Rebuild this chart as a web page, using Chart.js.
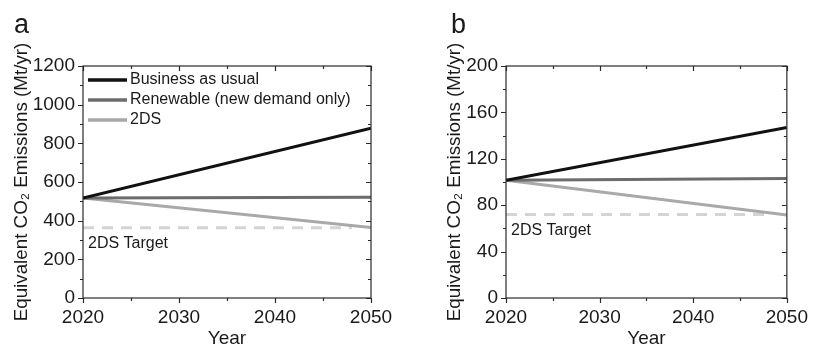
<!DOCTYPE html>
<html>
<head>
<meta charset="utf-8">
<script src="https://cdn.jsdelivr.net/npm/chart.js@4.4.0/dist/chart.umd.min.js"></script>
<style>
  body { margin: 0; background: #fff; width: 816px; height: 348px; overflow: hidden; position: relative;
         font-family: "Liberation Sans", Arial, sans-serif; color: #1a1a1a; }
  .panel { position: absolute; top: 0; height: 348px; }
  #wrapA { left: 0; width: 430px; }
  #wrapB { left: 430px; width: 386px; }
  .letter { position: absolute; font-size: 27px; line-height: 27px; }
</style>
</head>
<body>
<div class="panel" id="wrapA"><canvas id="chartA" width="430" height="348"></canvas></div>
<div class="panel" id="wrapB"><canvas id="chartB" width="386" height="348"></canvas></div>
<div class="letter" style="left:14px;top:11px">a</div>
<div class="letter" style="left:451px;top:11px">b</div>

<script>
// ---- data ----
const years = [2020, 2050];
const targetYears = [2020, 2048];      // dashed target stops just before the right axis
const xTicks = [2020, 2030, 2040, 2050];
const seriesNames = ['Business as usual', 'Renewable (new demand only)', '2DS'];

// panel a
const bauA = [517, 878];
const renewA = [517, 521];
const twoDsA = [517, 364];
const targetA = 364;
const yTicksA = [0, 200, 400, 600, 800, 1000, 1200];

// panel b
const bauB = [101.5, 147];
const renewB = [101.5, 103];
const twoDsB = [101.5, 71.5];
const targetB = 72;
const yTicksB = [0, 40, 80, 120, 160, 200];

const lineColors = ['#111111', '#6c6c6c', '#a9a9a9'];
const targetColor = '#d4d4d4';
const textColor = '#1a1a1a';
const FONT = '"Liberation Sans", Arial, sans-serif';

// frame + ticks (left/bottom outward, top/right inward), legend and the "2DS Target" label
const framePlugin = {
    id: 'frame',
    afterDraw(chart, args, opts) {
        const { ctx, chartArea: a, scales: { x, y } } = chart;
        ctx.save();
        ctx.strokeStyle = '#2a2a2a';
        ctx.lineWidth = 1.2;
        ctx.strokeRect(a.left, a.top, a.right - a.left, a.bottom - a.top);

        const minor = arr => arr.slice(1).map((v, i) => (v + arr[i]) / 2);
        ctx.beginPath();
        const yt = (vals, len) => vals.forEach(v => {
            const py = Math.round(y.getPixelForValue(v)) + 0.5;
            ctx.moveTo(a.left - len, py); ctx.lineTo(a.left, py);
            ctx.moveTo(a.right, py); ctx.lineTo(a.right - len, py);
        });
        const xt = (vals, len) => vals.forEach(v => {
            const px = Math.round(x.getPixelForValue(v)) + 0.5;
            ctx.moveTo(px, a.bottom); ctx.lineTo(px, a.bottom + len);
            ctx.moveTo(px, a.top); ctx.lineTo(px, a.top + len);
        });
        yt(opts.yTicks, 5); yt(minor(opts.yTicks), 3);
        xt(xTicks, 5); xt(minor(xTicks), 3);
        ctx.stroke();

        ctx.fillStyle = textColor;
        ctx.font = '16px ' + FONT;
        ctx.textBaseline = 'middle';

        // legend (only the three scenario lines)
        if (opts.legend) {
            chart.data.datasets.slice(0, 3).forEach((ds, i) => {
                const ly = a.top + 14 + i * 20;
                ctx.strokeStyle = ds.borderColor;
                ctx.lineWidth = 3.5;
                ctx.beginPath();
                ctx.moveTo(a.left + 5, ly); ctx.lineTo(a.left + 44, ly);
                ctx.stroke();
                ctx.fillText(ds.label, a.left + 47, ly);
            });
        }

        // target label
        ctx.fillText('2DS Target', a.left + 5, y.getPixelForValue(opts.target) + 16);
        ctx.restore();
    }
};

function buildChart(id, cfg) {
    const line = (label, vals, color) => ({
        label: label,
        data: years.map((yr, i) => ({ x: yr, y: vals[i] })),
        borderColor: color,
        backgroundColor: color,
        borderWidth: 3,
        pointRadius: 0
    });
    const datasets = [
        line(seriesNames[0], cfg.bau, lineColors[0]),
        line(seriesNames[1], cfg.renew, lineColors[1]),
        line(seriesNames[2], cfg.twoDs, lineColors[2]),
        {
            label: '2DS Target',
            data: targetYears.map(yr => ({ x: yr, y: cfg.target })),
            borderColor: targetColor,
            borderWidth: 3,
            borderDash: [11, 8],
            pointRadius: 0
        }
    ];
    const tickFont = { family: FONT, size: 19 };

    return new Chart(document.getElementById(id), {
        type: 'line',
        data: { datasets: datasets },
        plugins: [framePlugin],
        options: {
            responsive: false,
            animation: false,
            layout: { padding: { left: 0, top: 66, right: cfg.right, bottom: 0 } },
            plugins: {
                frame: { yTicks: cfg.yTicks, target: cfg.target, legend: cfg.legend },
                tooltip: { enabled: false },
                legend: { display: false }
            },
            scales: {
                x: {
                    type: 'linear',
                    min: xTicks[0],
                    max: xTicks[xTicks.length - 1],
                    afterBuildTicks: s => { s.ticks = xTicks.map(v => ({ value: v })); },
                    afterFit: s => { s.height = 50; },
                    grid: { display: false, drawTicks: false },
                    border: { display: false },
                    ticks: { padding: 8, color: textColor, font: tickFont, maxRotation: 0, autoSkip: false,
                             callback: v => String(v) },
                    title: { display: true, text: 'Year', color: textColor, font: tickFont, padding: { top: 0, bottom: -2 } }
                },
                y: {
                    min: cfg.yTicks[0],
                    max: cfg.yTicks[cfg.yTicks.length - 1],
                    afterBuildTicks: s => { s.ticks = cfg.yTicks.map(v => ({ value: v })); },
                    afterFit: s => { s.width = cfg.yWidth; },
                    grid: { display: false, drawTicks: false },
                    border: { display: false },
                    ticks: { padding: 8, color: textColor, font: tickFont, autoSkip: false,
                             callback: v => String(v) },
                    title: {
                        display: true,
                        text: 'Equivalent CO\u2082 Emissions (Mt/yr)',
                        color: textColor,
                        font: { family: FONT, size: 18.8 },
                        padding: { top: cfg.titlePad, bottom: 0 }
                    }
                }
            }
        }
    });
}

buildChart('chartA', { bau: bauA, renew: renewA, twoDs: twoDsA, target: targetA, yTicks: yTicksA,
                       legend: true, yWidth: 83, right: 59, titlePad: 10.5 });
buildChart('chartB', { bau: bauB, renew: renewB, twoDs: twoDsB, target: targetB, yTicks: yTicksB,
                       legend: false, yWidth: 76, right: 22, titlePad: 13.5 });
</script>
</body>
</html>
